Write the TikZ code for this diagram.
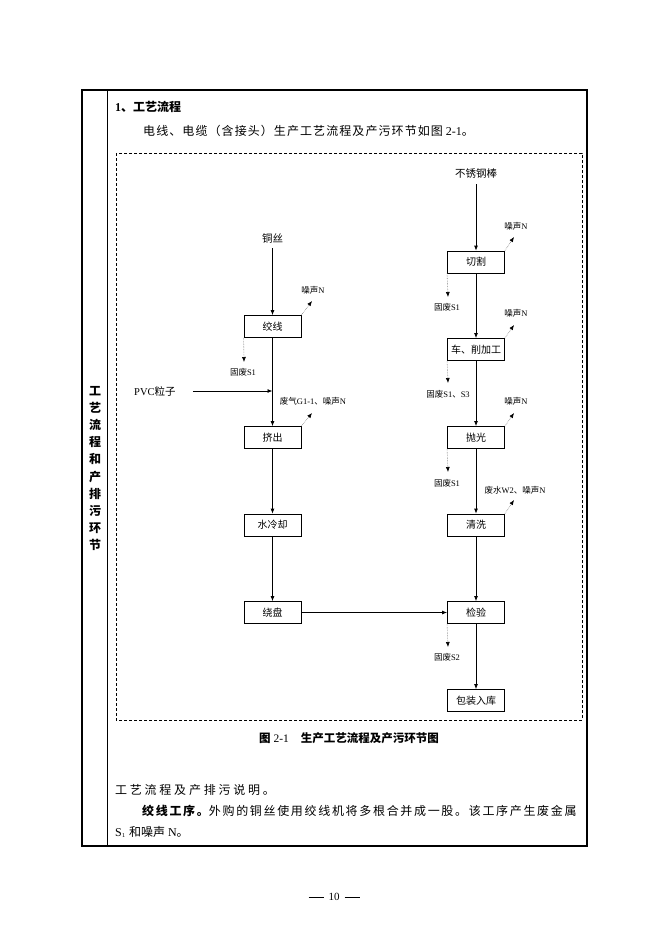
\documentclass[tikz,border=0pt]{standalone}
\usepackage{fontspec}
\setmainfont{Liberation Serif}
\newfontfamily\cjk{Noto Sans CJK SC}
\usetikzlibrary{arrows.meta}
\newcommand\zhs[1]{{\cjk #1}}
\newcommand\zhsp[2]{{\cjk\addfontfeature{LetterSpace=#1}#2}}
\begin{document}
\begin{tikzpicture}[x=1pt,y=-1pt,
  proc/.style={draw, line width=0.8pt, minimum width=57pt, minimum height=22pt, inner sep=0pt, font=\cjk\fontsize{10}{12}\selectfont},
  lbl/.style={inner sep=0pt, font=\fontsize{8.5}{10}\selectfont},
  src/.style={inner sep=0pt, font=\fontsize{10.5}{12}\selectfont},
  txt/.style={inner sep=0pt, anchor=west, font=\fontsize{12}{14}\selectfont},
  flow/.style={line width=0.8pt, -{Latex[length=5pt,width=4pt]}},
  emit/.style={gray, densely dotted, line width=0.6pt, -{Latex[length=5pt,width=4pt,color=black]}}
]
\useasboundingbox (0,0) rectangle (667,937);
\fill[white] (0,0) rectangle (667,937);

% table frame
\draw[line width=1.2pt] (82,90) rectangle (587,846);
\draw[line width=0.8pt] (107,90) -- (107,846);
\draw[line width=0.6pt, dash pattern=on 3pt off 2pt] (116,153) rectangle (582,720);

% side column text
\node[align=center, inner sep=0pt, font=\cjk\bfseries\fontsize{12}{17.2}\selectfont] (side) at (95,468.5)
  {工\\艺\\流\\程\\和\\产\\排\\污\\环\\节};

% heading and intro
\node[txt] (h1) at (115,107) {\bfseries 1\zhs{、工艺流程}};
\node[txt] (t1) at (143,131) {\zhsp{9}{电线、电缆（含接头）生产工艺流程及产污环节如图} 2-1\zhs{。}};

% process boxes
\node[proc] (jx) at (272.5,326.5) {绞线};
\node[proc] (jc) at (272.5,437.5) {挤出};
\node[proc] (sl) at (272.5,525) {水冷却};
\node[proc] (rp) at (272.5,612.5) {绕盘};
\node[proc] (qg) at (476,262) {切割};
\node[proc] (cx) at (476,349.5) {车、削加工};
\node[proc] (pg) at (476,437.5) {抛光};
\node[proc] (qx) at (476,525) {清洗};
\node[proc] (jy) at (476,612.5) {检验};
\node[proc] (bz) at (476,700.5) {包装入库};

% raw materials
\node[src] (ts) at (272.5,239) {\zhs{铜丝}};
\node[src] (bx) at (476,174) {\zhs{不锈钢棒}};
\node[src, anchor=west] (pvc) at (134,391) {PVC\zhs{粒子}};
\coordinate (pvcin) at (272.5,391);

% main flow
\draw[flow, shorten <=4pt] (ts) -- (jx);
\draw[flow] (jx) -- (jc);
\draw[flow, shorten <=17pt] (pvc.east) -- (pvcin);
\draw[flow] (jc) -- (sl);
\draw[flow] (sl) -- (rp);
\draw[flow] (rp) -- (jy);
\draw[flow, shorten <=5pt] (bx) -- (qg);
\draw[flow] (qg) -- (cx);
\draw[flow] (cx) -- (pg);
\draw[flow] (pg) -- (qx);
\draw[flow] (qx) -- (jy);
\draw[flow] (jy) -- (bz);

% noise / gas / water emissions
\coordinate (e1) at (312,301);
\coordinate (e2) at (312,413);
\coordinate (e3) at (514,237);
\coordinate (e4) at (514,325);
\coordinate (e5) at (514,413);
\coordinate (e6) at (514,500);
\draw[emit] (jx.north east) -- (e1);
\draw[emit] (jc.north east) -- (e2);
\draw[emit] (qg.north east) -- (e3);
\draw[emit] (cx.north east) -- (e4);
\draw[emit] (pg.north east) -- (e5);
\draw[emit] (qx.north east) -- (e6);
\node[lbl] (l1) at (313,290) {\zhs{噪声}N};
\node[lbl] (l2) at (313,401) {\zhs{废气}G1-1\zhs{、噪声}N};
\node[lbl] (l3) at (516,226) {\zhs{噪声}N};
\node[lbl] (l4) at (516,313) {\zhs{噪声}N};
\node[lbl] (l5) at (516,401) {\zhs{噪声}N};
\node[lbl] (l6) at (515,490) {\zhs{废水}W2\zhs{、噪声}N};

% solid wastes
\coordinate (w1) at (244,362);
\coordinate (w2) at (448,297);
\coordinate (w3) at (448,383);
\coordinate (w4) at (448,472);
\coordinate (w5) at (448,647);
\draw[emit] (jx.south west) -- (w1);
\draw[emit] (qg.south west) -- (w2);
\draw[emit] (cx.south west) -- (w3);
\draw[emit] (pg.south west) -- (w4);
\draw[emit] (jy.south west) -- (w5);
\node[lbl] (s1) at (243,372) {\zhs{固废}S1};
\node[lbl] (s2) at (447,307) {\zhs{固废}S1};
\node[lbl] (s3) at (448,394) {\zhs{固废}S1\zhs{、}S3};
\node[lbl] (s4) at (447,483) {\zhs{固废}S1};
\node[lbl] (s5) at (447,657) {\zhs{固废}S2};

% caption
\node[inner sep=0pt, font=\fontsize{11.5}{13}\selectfont] (cap) at (349,738)
  {\zhs{\bfseries 图} 2-1\hspace{12pt}\zhs{\bfseries 生产工艺流程及产污环节图}};

% explanation text
\node[txt] (t2) at (115,790) {\zhsp{23}{工艺流程及产排污说明。}};
\node[txt] (t3) at (142,811) {\zhsp{14}{\bfseries 绞线工序。}\zhsp{14}{外购的铜丝使用绞线机将多根合并成一股。该工序产生废金属}};
\node[txt] (t4) at (115,832) {S$_{\scriptscriptstyle 1}$ \zhs{和噪声} N\zhs{。}};

% page number
\node[inner sep=0pt, font=\fontsize{11}{13}\selectfont] (pn) at (334,897)
  {\rule[3pt]{15pt}{0.6pt}\hspace{5pt}10\hspace{5pt}\rule[3pt]{15pt}{0.6pt}};
\end{tikzpicture}
\end{document}
